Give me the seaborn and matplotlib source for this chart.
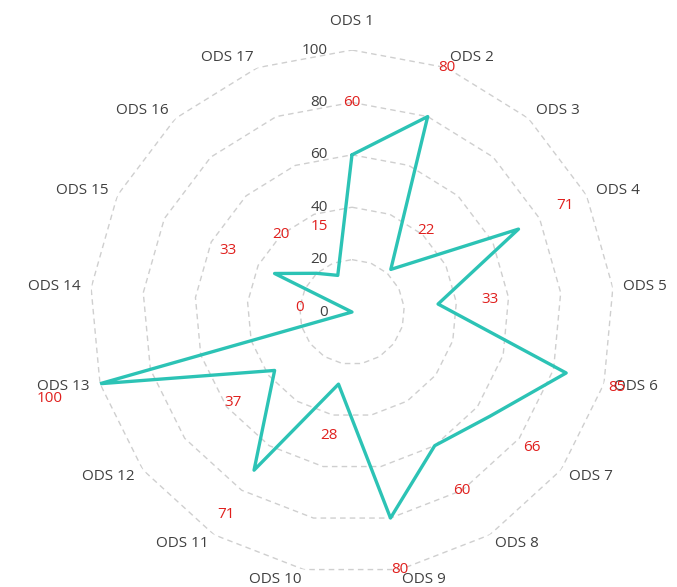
import numpy as np
import pandas as pd
import matplotlib
matplotlib.use("Agg")
import matplotlib.pyplot as plt
import matplotlib.transforms as mtransforms
import seaborn as sns


categories = [f"ODS {i}" for i in range(1, 18)]
values = [60, 80, 22, 71, 33, 85, 66, 60, 80, 28, 71, 37, 100, 0, 33, 20, 15]
grid_levels = [20, 40, 60, 80, 100]
radial_ticks = [0, 20, 40, 60, 80, 100]

LINE_COLOR = "#2CC3B5"
LABEL_RED = "#E0201E"
TEXT_GRAY = "#404040"
GRID_GRAY = "#CFCFCF"


def main():
    sns.set_theme(style="white")
    plt.rcParams["font.family"] = ["Open Sans", "DejaVu Sans"]

    n = len(categories)
    theta = np.arange(n) * 2 * np.pi / n

    fig = plt.figure(figsize=(6.77, 5.87), dpi=100)
    ax = fig.add_axes([0.1329, 0.0221, 0.774, 0.8927], projection="polar")
    ax.set_theta_zero_location("N")
    ax.set_theta_direction(-1)
    ax.set_ylim(0, 100)
    ax.grid(False)
    ax.spines["polar"].set_visible(False)

    # polygon gridlines
    closed_theta = np.append(theta, 2 * np.pi)
    for level in grid_levels:
        ax.plot(closed_theta, [level] * (n + 1), color=GRID_GRAY,
                linewidth=1, linestyle=(0, (4, 3)), zorder=1)

    # data series (closing point at 2*pi so it isn't merged with the first)
    df = pd.DataFrame({
        "theta": closed_theta,
        "value": values + [values[0]],
    })
    sns.lineplot(data=df, x="theta", y="value", sort=False, estimator=None,
                 ax=ax, color=LINE_COLOR, linewidth=2.4, zorder=3)
    ax.set_xlabel("")
    ax.set_ylabel("")
    ax.set_ylim(0, 100)
    ax.set_xticks([])
    ax.set_yticks([])

    # radial tick labels along the first axis
    offset = mtransforms.offset_copy(ax.transData, fig=fig, x=-24, y=0,
                                     units="dots")
    for r in radial_ticks:
        ax.text(0, r, str(r), transform=offset, ha="right", va="center",
                fontsize=11, color=TEXT_GRAY)

    # category labels
    for t, name in zip(theta, categories):
        s = np.sin(t)
        if abs(s) < 0.05:
            ax.text(t, 108, name, ha="center", va="bottom", fontsize=11,
                    color=TEXT_GRAY)
        else:
            ha = "left" if s > 0 else "right"
            ax.text(t, 104, name, ha=ha, va="center", fontsize=11,
                    color=TEXT_GRAY)

    # data labels
    for t, v in zip(theta, values):
        ax.text(t, v + 20, str(v), ha="center", va="center", fontsize=11,
                color=LABEL_RED, zorder=4)

    fig.savefig("out.png", dpi=100)
    plt.close(fig)


if __name__ == "__main__":
    main()
